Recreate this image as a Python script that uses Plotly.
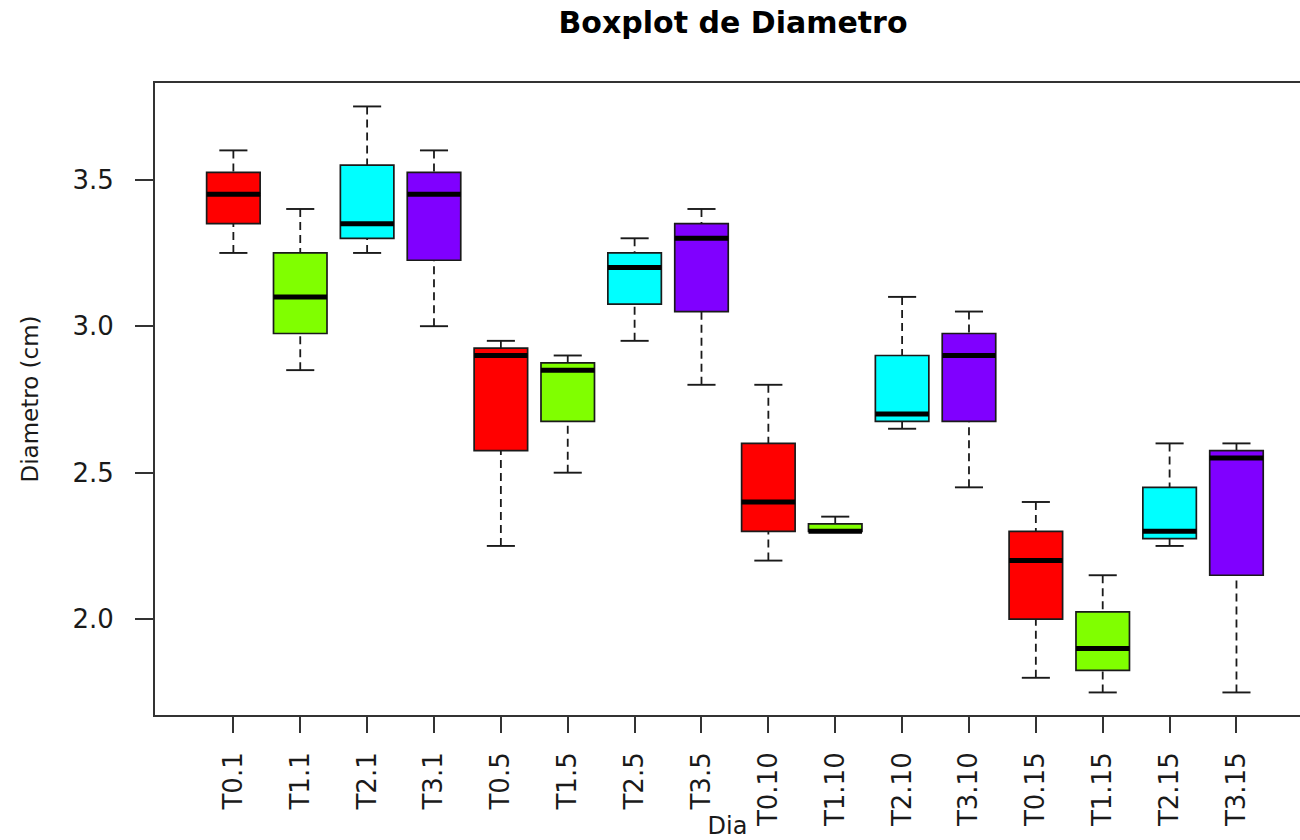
import plotly.graph_objects as go

# ---- data ----
categories = ["T0.1", "T1.1", "T2.1", "T3.1",
              "T0.5", "T1.5", "T2.5", "T3.5",
              "T0.10", "T1.10", "T2.10", "T3.10",
              "T0.15", "T1.15", "T2.15", "T3.15"]
lower_whisker = [3.25, 2.85, 3.25, 3.00, 2.25, 2.50, 2.95, 2.80,
                 2.20, 2.30, 2.65, 2.45, 1.80, 1.75, 2.25, 1.75]
q1 = [3.35, 2.975, 3.30, 3.225, 2.575, 2.675, 3.075, 3.05,
      2.30, 2.30, 2.675, 2.675, 2.00, 1.825, 2.275, 2.15]
median = [3.45, 3.10, 3.35, 3.45, 2.90, 2.85, 3.20, 3.30,
          2.40, 2.30, 2.70, 2.90, 2.20, 1.90, 2.30, 2.55]
q3 = [3.525, 3.25, 3.55, 3.525, 2.925, 2.875, 3.25, 3.35,
      2.60, 2.325, 2.90, 2.975, 2.30, 2.025, 2.45, 2.575]
upper_whisker = [3.60, 3.40, 3.75, 3.60, 2.95, 2.90, 3.30, 3.40,
                 2.80, 2.35, 3.10, 3.05, 2.40, 2.15, 2.60, 2.60]
box_colors = ["#FF0000", "#80FF00", "#00FFFF", "#8000FF"]
y_tick_values = [2.0, 2.5, 3.0, 3.5]
y_tick_labels = ["2.0", "2.5", "3.0", "3.5"]

# ---- styling ----
FONT = "DejaVu Sans"
BOX_WIDTH = 0.8
CAP_HALF = 0.21
INK = "#1a1a1a"

positions = list(range(1, len(categories) + 1))

fig = go.Figure()

# boxes (one trace per colour)
for k, col in enumerate(box_colors):
    idx = list(range(k, len(categories), len(box_colors)))
    fig.add_trace(go.Box(
        x=[positions[i] for i in idx],
        q1=[q1[i] for i in idx],
        median=[median[i] for i in idx],
        q3=[q3[i] for i in idx],
        lowerfence=[q1[i] for i in idx],
        upperfence=[q3[i] for i in idx],
        width=BOX_WIDTH,
        fillcolor=col,
        line=dict(color=INK, width=1.7),
        whiskerwidth=0,
        boxpoints=False,
        showlegend=False,
        hoverinfo="skip",
        name="T%d" % k,
    ))

# dashed whiskers (drawn from the fence towards the box, as R does)
wx, wy = [], []
cx, cy = [], []
mx, my = [], []
for i, p in enumerate(positions):
    if upper_whisker[i] > q3[i]:
        wx += [p, p, None]
        wy += [upper_whisker[i], q3[i], None]
    if lower_whisker[i] < q1[i]:
        wx += [p, p, None]
        wy += [lower_whisker[i], q1[i], None]
    for v in (upper_whisker[i], lower_whisker[i]):
        cx += [p - CAP_HALF, p + CAP_HALF, None]
        cy += [v, v, None]
    mx += [p - BOX_WIDTH / 2, p + BOX_WIDTH / 2, None]
    my += [median[i], median[i], None]

fig.add_trace(go.Scatter(x=wx, y=wy, mode="lines",
                         line=dict(color=INK, width=1.8, dash="8px,5px"),
                         showlegend=False, hoverinfo="skip"))
fig.add_trace(go.Scatter(x=cx, y=cy, mode="lines",
                         line=dict(color=INK, width=1.9),
                         showlegend=False, hoverinfo="skip"))
fig.add_trace(go.Scatter(x=mx, y=my, mode="lines",
                         line=dict(color="#000000", width=5),
                         showlegend=False, hoverinfo="skip"))

axis_common = dict(
    showgrid=False, zeroline=False, showline=True,
    linecolor="#333333", linewidth=1.8,
    ticks="outside", tickwidth=1.6, tickcolor="#333333",
    tickfont=dict(family=FONT, size=26, color="#1a1a1a"),
    automargin=False,
)

fig.update_layout(
    width=1300, height=840,
    margin=dict(l=155, r=0, t=83, b=125),
    paper_bgcolor="white", plot_bgcolor="white",
    boxmode="overlay",
    title=dict(text="Boxplot de Diametro",
               font=dict(family=FONT, size=30, color="#000000", weight="bold"),
               x=733 / 1300, xanchor="center", xref="container",
               y=1 - 22 / 840, yanchor="middle", yref="container"),
    xaxis=dict(**axis_common,
               range=[-0.172, 16.95],
               tickmode="array", tickvals=positions, ticktext=categories,
               tickangle=-90, ticklen=16, mirror=True,
               ticklabelstandoff=9,
               title=dict(text="Dia", font=dict(family=FONT, size=24, color="#1a1a1a"),
                          standoff=0)),
    yaxis=dict(**axis_common,
               range=[1.673, 3.830],
               tickmode="array", tickvals=y_tick_values, ticktext=y_tick_labels,
               ticklen=18, mirror=False,
               ticklabelstandoff=16,
               title=dict(text="Diametro (cm)", font=dict(family=FONT, size=23, color="#1a1a1a"),
                          standoff=27)),
)

fig.write_html("out.html")
